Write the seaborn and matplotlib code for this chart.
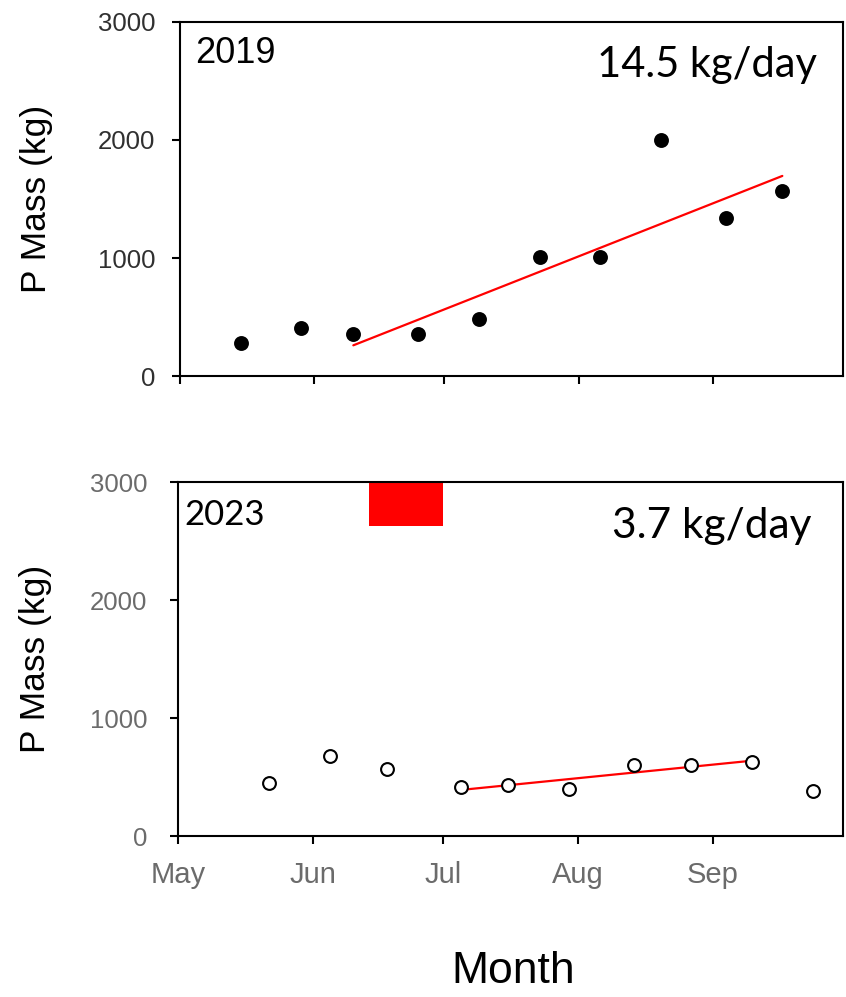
import matplotlib
matplotlib.use("Agg")
import matplotlib.pyplot as plt
import matplotlib.dates as mdates
import numpy as np
import pandas as pd
import seaborn as sns

# ---- data -------------------------------------------------------------
dates_2019 = ["05-15", "05-29", "06-10", "06-25", "07-09",
              "07-23", "08-06", "08-20", "09-04", "09-17"]
pmass_2019 = [280, 405, 355, 355, 485, 1005, 1005, 2000, 1340, 1565]

dates_2023 = ["05-22", "06-05", "06-18", "07-05", "07-16",
              "07-30", "08-14", "08-27", "09-10", "09-24"]
pmass_2023 = [452, 677, 570, 418, 432, 395, 604, 604, 624, 384]

# linear trend segments: first/last sampling date, value at start, slope
trend_span_2019 = ["06-10", "09-17"]
trend_start_2019 = 260
slope_2019 = 14.5          # kg/day

trend_span_2023 = ["07-05", "09-10"]
trend_start_2023 = 390
slope_2023 = 3.7           # kg/day

# treatment window marked in 2023
event_2023 = ["06-14", "07-01"]
event_band = [2630, 3000]

month_start, month_end = "05-01", "10-01"
yticks = [0, 1000, 2000, 3000]

# ---- styling ----------------------------------------------------------
sns.set_style("ticks")
plt.rcParams["font.family"] = ["Liberation Sans", "DejaVu Sans"]
CAL = ["Lato", "DejaVu Sans"]


def to_dt(year, md):
    return pd.to_datetime([f"{year}-{d}" for d in md])


def trend_frame(year, span, start_val, slope):
    x = to_dt(year, span)
    days = (x[1] - x[0]).days
    return pd.DataFrame({"date": x, "mass": [start_val, start_val + slope * days]})


fig = plt.figure(figsize=(8.46, 9.97), dpi=100)
ax1 = fig.add_axes([180 / 846, 1 - 376 / 997, 663 / 846, 354 / 997])
ax2 = fig.add_axes([178 / 846, 1 - 836 / 997, 665 / 846, 354 / 997])

panels = [
    (ax1, 2019, dates_2019, pmass_2019, trend_span_2019, trend_start_2019,
     slope_2019, "black", "#303030"),
    (ax2, 2023, dates_2023, pmass_2023, trend_span_2023, trend_start_2023,
     slope_2023, "white", "#6b6b6b"),
]

for ax, year, dates, mass, span, t0, slope, face, tickcol in panels:
    df = pd.DataFrame({"date": to_dt(year, dates), "mass": mass})
    tr = trend_frame(year, span, t0, slope)
    sns.lineplot(data=tr, x="date", y="mass", ax=ax, color="#ff0000",
                 linewidth=1.6, zorder=2)
    sns.scatterplot(data=df, x="date", y="mass", ax=ax, s=85,
                    color=face, edgecolor="black", linewidth=1.5, zorder=3)

    ax.set_xlim(pd.Timestamp(f"{year}-{month_start}"),
                pd.Timestamp(f"{year}-{month_end}"))
    ax.set_ylim(0, 3000)
    ax.set_yticks(yticks)
    ax.xaxis.set_major_locator(mdates.MonthLocator(bymonth=[5, 6, 7, 8, 9]))
    ax.xaxis.set_major_formatter(mdates.DateFormatter("%b"))

    for sp in ax.spines.values():
        sp.set_linewidth(1.5)
        sp.set_color("black")
    ax.tick_params(axis="both", direction="out", length=6, width=1.5,
                   color="black")
    ax.tick_params(axis="y", labelsize=18.5, labelcolor=tickcol, pad=12)
    ax.tick_params(axis="x", labelsize=21, labelcolor="#6b6b6b", pad=12)
    ax.set_xlabel("")
    ax.set_ylabel("P Mass (kg)", fontsize=25.5, color="black")

ax1.yaxis.set_label_coords(-0.1915, 0.5)
ax2.yaxis.set_label_coords(-0.189, 0.5)
ax1.tick_params(axis="x", labelbottom=False)
ax2.tick_params(axis="y", pad=16)

# treatment window
ev = to_dt(2023, event_2023)
ax2.fill_between(ev, event_band[0], event_band[1], color="#ff0000",
                 linewidth=0, zorder=1)

# panel annotations
ax1.text(0.023, 0.884, "2019", transform=ax1.transAxes, fontsize=26,
         ha="left", va="baseline", color="black")
ax1.text(0.961, 0.845, f"{slope_2019} kg/day", transform=ax1.transAxes,
         fontsize=30, family=CAL, ha="right", va="baseline", color="black")
ax2.text(0.009, 0.879, "2023", transform=ax2.transAxes, fontsize=25,
         family=CAL, ha="left", va="baseline", color="black")
ax2.text(0.953, 0.842, f"{slope_2023} kg/day", transform=ax2.transAxes,
         fontsize=30.5, family=CAL, ha="right", va="baseline", color="black")

fig.text(513 / 846, 1 - 971 / 997, "Month", fontsize=32, ha="center",
         va="center", color="black")

fig.savefig("out.png", dpi=100)
